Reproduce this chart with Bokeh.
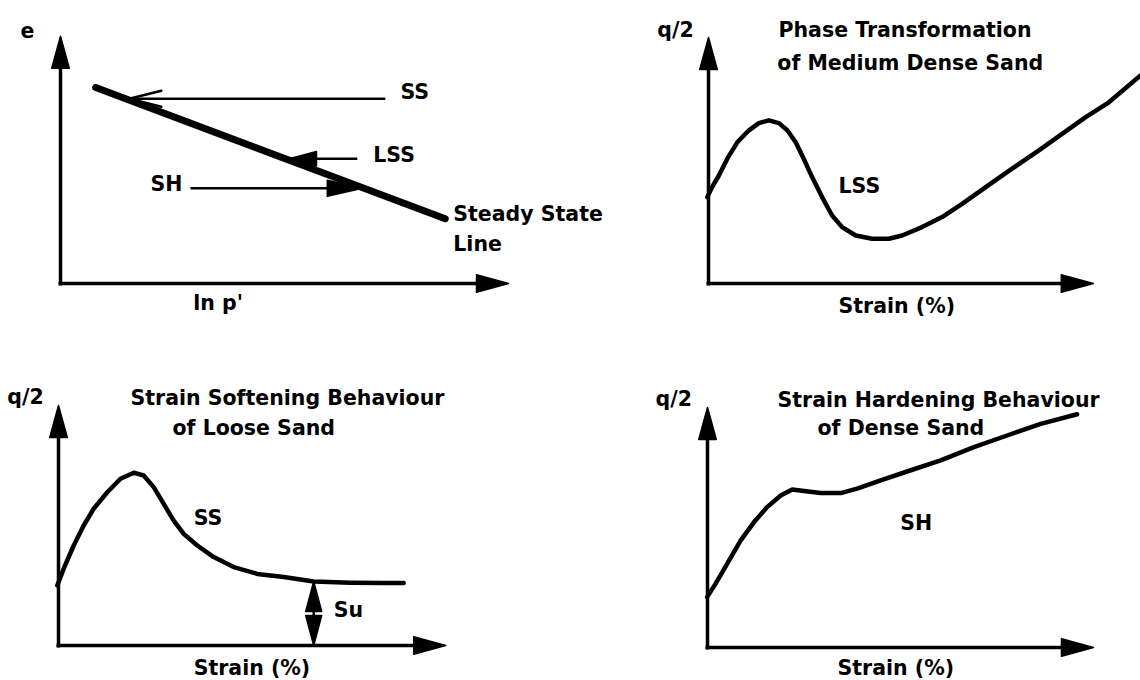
import math
from bokeh.plotting import figure
from bokeh.layouts import column, row
from bokeh.models import Range1d
from bokeh.core.properties import value
from bokeh.embed import file_html
from bokeh.resources import INLINE

# ---------------- data (schematic units) ----------------
# e - ln p' plane: steady state line and three undrained stress paths
ssl_lnp = [0.88, 9.62]
ssl_e = [4.90, 1.62]
path_names = ["SS", "LSS", "SH"]
path_e = [4.62, 3.12, 2.38]
path_lnp_start = [8.12, 7.42, 3.25]
path_lnp_end = [1.72, 5.72, 7.55]

# q/2 versus strain: phase transformation of medium dense sand
phase_strain = [-0.03, 0.09, 0.26, 0.47, 0.72, 1.01, 1.26, 1.51, 1.76, 1.97, 2.18,
                2.38, 2.59, 2.84, 3.09, 3.34, 3.68, 4.09, 4.51, 4.84, 5.34, 5.84,
                6.34, 6.93, 7.59, 8.26, 8.84, 9.43, 10.01, 10.80]
phase_q = [2.16, 2.41, 2.70, 3.12, 3.53, 3.83, 4.01, 4.08, 4.01, 3.83, 3.53,
           3.12, 2.66, 2.16, 1.70, 1.41, 1.20, 1.12, 1.12, 1.20, 1.41, 1.66,
           1.99, 2.41, 2.87, 3.33, 3.74, 4.16, 4.53, 5.20]

# strain softening of loose sand
loose_strain = [-0.03, 0.13, 0.38, 0.63, 0.88, 1.22, 1.55, 1.88, 2.13, 2.38, 2.63,
                2.88, 3.13, 3.47, 3.88, 4.38, 4.97, 5.63, 6.38, 7.30, 8.13, 8.63]
loose_q = [1.50, 1.92, 2.50, 3.00, 3.42, 3.83, 4.17, 4.32, 4.25, 3.96, 3.54,
           3.12, 2.79, 2.50, 2.21, 1.96, 1.79, 1.71, 1.60, 1.57, 1.56, 1.56]
su_strain = 6.38
su_value = loose_q[loose_strain.index(su_strain)]

# strain hardening of dense sand
dense_strain = [-0.01, 0.20, 0.49, 0.83, 1.16, 1.49, 1.83, 2.12, 2.41, 2.83, 3.33,
                3.74, 4.33, 4.99, 5.83, 6.66, 7.49, 8.33, 9.24]
dense_q = [1.26, 1.59, 2.09, 2.68, 3.13, 3.51, 3.80, 3.95, 3.91, 3.86, 3.86,
           3.97, 4.18, 4.40, 4.68, 5.01, 5.30, 5.59, 5.83]

# ---------------- styling ----------------
FONT = value("DejaVu Sans")
FSIZE = "20.5px"
INK = "black"


def panel(width, height, x_range, y_range):
    p = figure(width=width, height=height, x_range=Range1d(*x_range),
               y_range=Range1d(*y_range), x_axis_location=None, y_axis_location=None,
               toolbar_location=None, output_backend="svg", min_border=0,
               outline_line_color=None, background_fill_color="white",
               border_fill_color="white")
    p.grid.visible = False
    return p


def head(p, tip, direction, length, half, filled=True, width=2.5):
    dx, dy = direction
    n = math.hypot(dx, dy)
    dx, dy = dx / n, dy / n
    bx, by = tip[0] - length * dx, tip[1] - length * dy
    px, py = -dy * half, dx * half
    xs = [bx + px, tip[0], bx - px]
    ys = [by + py, tip[1], by - py]
    if filled:
        p.patch(xs + [bx], ys + [by], fill_color=INK, line_color=INK, line_width=1.5,
                line_join="round")
    else:
        p.line(xs, ys, line_color=INK, line_width=width, line_join="round", line_cap="round")


def axes(p, xlen, ylen):
    hl, hw = 0.8, 0.22
    p.line([-0.05, xlen - hl + 0.05], [0, 0], line_color=INK, line_width=3.5)
    p.line([0, 0], [-0.05, ylen - hl + 0.05], line_color=INK, line_width=3.5)
    head(p, (xlen, 0), (1, 0), hl, hw)
    head(p, (0, ylen), (0, 1), hl, hw)


def label(p, x, y, text):
    p.text(x=[x], y=[y], text=[text], text_font=FONT, text_font_style="bold",
           text_font_size=FSIZE, text_align="left", text_baseline="alphabetic",
           text_color=INK)


def curve(p, xs, ys):
    p.line(xs, ys, line_color=INK, line_width=4.5, line_cap="round", line_join="round")


# ---------------- e - ln p' ----------------
p1 = panel(610, 340, (-1.5, 13.75), (-1.425, 7.075))
axes(p1, 11.2, 6.18)
p1.line(ssl_lnp, ssl_e, line_color=INK, line_width=7, line_cap="round")
p1.segment(x0=path_lnp_start, y0=path_e, x1=path_lnp_end, y1=path_e,
           line_color=INK, line_width=2.6)
head(p1, (path_lnp_end[0], path_e[0]), (-1, 0), 0.8, 0.2, filled=False, width=2.6)
head(p1, (path_lnp_end[1], path_e[1]), (-1, 0), 0.68, 0.18)
head(p1, (path_lnp_end[2], path_e[2]), (1, 0), 0.88, 0.2)
label(p1, -1.0, 6.35, "e")
label(p1, 8.5, 4.78, path_names[0])
label(p1, 7.82, 3.22, path_names[1])
label(p1, 2.25, 2.5, path_names[2])
label(p1, 9.82, 1.75, "Steady State")
label(p1, 9.82, 0.98, "Line")
label(p1, 3.32, -0.48, "ln p'")

# ---------------- phase transformation ----------------
p2 = panel(530, 340, (-2.45, 10.8), (-1.425, 7.075))
axes(p2, 9.62, 6.15)
curve(p2, phase_strain, phase_q)
label(p2, -1.28, 6.35, "q/2")
label(p2, 1.75, 6.35, "Phase Transformation")
label(p2, 1.72, 5.52, "of Medium Dense Sand")
label(p2, 3.25, 2.45, "LSS")
label(p2, 3.25, -0.55, "Strain (%)")

# ---------------- strain softening ----------------
p3 = panel(570, 340, (-1.45, 12.8), (-0.875, 7.625))
axes(p3, 9.68, 6.0)
curve(p3, loose_strain, loose_q)
p3.line([su_strain, su_strain], [0.3, su_value - 0.3], line_color=INK, line_width=2.5)
head(p3, (su_strain, su_value), (0, 1), 0.75, 0.2)
head(p3, (su_strain, 0.0), (0, -1), 0.75, 0.2)
label(p3, -1.28, 6.22, "q/2")
label(p3, 1.8, 6.18, "Strain Softening Behaviour")
label(p3, 2.85, 5.45, "of Loose Sand")
label(p3, 3.38, 3.18, "SS")
label(p3, 6.88, 0.88, "Su")
label(p3, 3.38, -0.55, "Strain (%)")

# ---------------- strain hardening ----------------
p4 = panel(570, 340, (-3.425, 10.825), (-0.825, 7.675))
axes(p4, 9.65, 6.0)
curve(p4, dense_strain, dense_q)
label(p4, -1.3, 6.22, "q/2")
label(p4, 1.75, 6.18, "Strain Hardening Behaviour")
label(p4, 2.75, 5.48, "of Dense Sand")
label(p4, 4.82, 3.12, "SH")
label(p4, 3.25, -0.5, "Strain (%)")

layout = column(row(p1, p2), row(p3, p4))

with open("out.html", "w") as f:
    f.write(file_html(layout, INLINE))
